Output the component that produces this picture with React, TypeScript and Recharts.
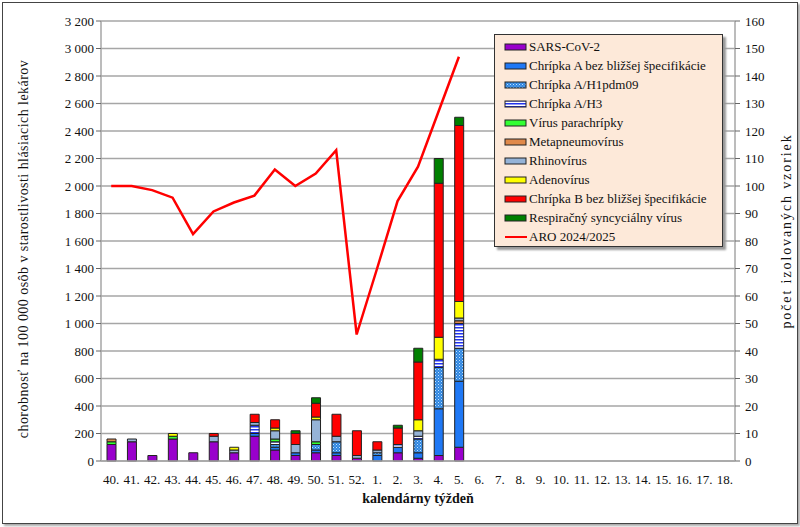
import { ComposedChart, Bar, Line, XAxis, YAxis, CartesianGrid, Legend } from 'recharts'

const weeks = ['40','41','42','43','44','45','46','47','48','49','50','51','52','1','2','3','4','5','6','7','8','9','10','11','12','13','14','15','16','17','18']

// pocet izolovanych vzoriek (prava os), tyzden 40 .. 5
const sars    = [6,7,2,8,3,7,3,9,4,2,3,2,1,0,3,1,2,5]
const fluA    = [0,0,0,0,0,0,0,1,1,1,1,1,0,2,2,2,17,24]
const h1pdm   = [0,0,0,0,0,0,0,0,1,0,2,4,0,1,0,5,15,12]
const h3      = [0,0,0,0,0,0,0,3,1,0,0,0,0,0,1,1,3,9]
const para    = [1,0,0,1,0,0,0,0,1,0,1,0,0,0,0,0,0,0]
const meta    = [1,0,0,0,0,0,0,0,0,0,0,0,0,0,0,0,0,1]
const rhino   = [0,1,0,0,0,2,1,1,3,3,8,2,1,1,0,2,0,1]
const adeno   = [0,0,0,1,0,0,1,0,1,0,1,0,0,0,0,4,8,6]
const fluB    = [0,0,0,0,0,1,0,3,3,4,5,8,9,3,6,21,56,64]
const rsv     = [0,0,0,0,0,0,0,0,0,1,2,0,0,0,1,5,9,3]
// chorobnost ARO (lava os)
const aro     = [2000,2000,1970,1915,1650,1815,1880,1930,2120,2000,2090,2260,920,1400,1890,2140,2540,2940]

const leftTicks = [0,200,400,600,800,1000,1200,1400,1600,1800,2000,2200,2400,2600,2800,3000,3200]
const rightTicks = [0,10,20,30,40,50,60,70,80,90,100,110,120,130,140,150,160]

const series = [
  { key: 'sars', name: 'SARS-CoV-2', fill: '#9900cc', vals: sars },
  { key: 'fluA', name: 'Chrípka A bez bližšej špecifikácie', fill: '#1f78f5', vals: fluA },
  { key: 'h1pdm', name: 'Chrípka A/H1pdm09', fill: 'url(#patH1)', vals: h1pdm },
  { key: 'h3', name: 'Chrípka A/H3', fill: 'url(#patH3)', vals: h3 },
  { key: 'para', name: 'Vírus parachrípky', fill: '#33ff33', vals: para },
  { key: 'meta', name: 'Metapneumovírus', fill: '#e0894a', vals: meta },
  { key: 'rhino', name: 'Rhinovírus', fill: '#95b3d7', vals: rhino },
  { key: 'adeno', name: 'Adenovírus', fill: '#ffff00', vals: adeno },
  { key: 'fluB', name: 'Chrípka B bez bližšej špecifikácie', fill: '#ff0000', vals: fluB },
  { key: 'rsv', name: 'Respiračný syncyciálny vírus', fill: '#008000', vals: rsv },
]

const data = weeks.map((w, i) => {
  const row: any = { week: w + '.', aro: i < aro.length ? aro[i] : null }
  series.forEach(s => { row[s.key] = i < s.vals.length ? s.vals[i] : 0 })
  return row
})

const font = '"Liberation Serif", "Times New Roman", serif'
const fmt = (v: number) => String(v).replace(/\B(?=(\d{3})+(?!\d))/g, ' ')

function LegendBox() {
  return (
    <div style={{ width: 229, height: 213, background: '#fde9d9', border: '1px solid #333',
      boxShadow: '3px 3px 2px #999', fontFamily: font, fontSize: 13, color: '#111', paddingTop: 2, boxSizing: 'border-box' }}>
      {series.map(s => (
        <div key={s.key} style={{ display: 'flex', alignItems: 'center', height: 19 }}>
          <svg width={24} height={8} style={{ marginLeft: 9, marginRight: 1 }}>
            <rect x={1} y={1} width={21} height={6} fill={s.fill} stroke="#222" strokeWidth={1} />
          </svg>
          <span>{s.name}</span>
        </div>
      ))}
      <div style={{ display: 'flex', alignItems: 'center', height: 19 }}>
        <svg width={24} height={8} style={{ marginLeft: 9, marginRight: 1 }}>
          <line x1={1} y1={4} x2={23} y2={4} stroke="#ff0000" strokeWidth={2} />
        </svg>
        <span>ARO 2024/2025</span>
      </div>
    </div>
  )
}

export default function App() {
  return (
    <div style={{ position: 'absolute', left: 0, top: 0, width: 800, height: 527, background: '#fff' }}>
      <svg width={0} height={0} style={{ position: 'absolute' }}>
        <defs>
          <pattern id="patH1" width={3} height={3} patternUnits="userSpaceOnUse">
            <rect width={3} height={3} fill="#2f86e0" />
            <rect x={0} y={0} width={1} height={1} fill="#bfe0ff" />
            <rect x={1.5} y={1.5} width={1} height={1} fill="#8cc4f5" />
          </pattern>
          <pattern id="patH3" width={4} height={3} patternUnits="userSpaceOnUse">
            <rect width={4} height={3} fill="#ffffff" />
            <rect x={0} y={0} width={4} height={1.5} fill="#2233ee" />
          </pattern>
        </defs>
      </svg>
      <div style={{ position: 'absolute', left: 2, top: 2, width: 794, height: 520, border: '1px solid #444', boxShadow: '2px 2px 2px #aaa' }} />
      <div style={{ position: 'absolute', left: 0, top: 0 }}>
        <ComposedChart width={800} height={527} data={data}
          margin={{ top: 21, right: 25, bottom: 36, left: 40 }}>
          <CartesianGrid vertical={false} stroke="#a6a6a6" strokeWidth={1.5} yAxisId="left" />
          <XAxis dataKey="week" height={30} interval={0} tickLine={false}
            axisLine={{ stroke: '#a6a6a6', strokeWidth: 1.5 }}
            tick={{ fontFamily: font, fontSize: 13, fill: '#111' }} dy={6} />
          <YAxis yAxisId="left" orientation="left" width={61} domain={[0, 3200]} ticks={leftTicks}
            interval={0} tickFormatter={fmt} axisLine={{ stroke: '#a6a6a6', strokeWidth: 1.5 }}
            tickLine={{ stroke: '#666' }} tickSize={5}
            tick={{ fontFamily: font, fontSize: 13, fill: '#111' }} />
          <YAxis yAxisId="right" orientation="right" width={40} domain={[0, 160]} ticks={rightTicks}
            interval={0} axisLine={{ stroke: '#a6a6a6', strokeWidth: 1.5 }}
            tickLine={{ stroke: '#666' }} tickSize={5}
            tick={{ fontFamily: font, fontSize: 13, fill: '#111', textAnchor: 'start', dx: 3 }} />
          {series.map(s => (
            <Bar key={s.key} yAxisId="right" dataKey={s.key} name={s.name} stackId="v" fill={s.fill}
              stroke="#222" strokeWidth={1} barSize={9} isAnimationActive={false} />
          ))}
          <Line yAxisId="left" type="linear" dataKey="aro" name="ARO 2024/2025" stroke="#ff0000"
            strokeWidth={2.5} dot={false} connectNulls={false} isAnimationActive={false} />
          <Legend layout="vertical" align="center" verticalAlign="middle" content={() => <LegendBox />}
            wrapperStyle={{ left: 494, top: 34, width: 229 }} />
        </ComposedChart>
      </div>
      <div style={{ position: 'absolute', left: 24, top: 249, transform: 'translate(-50%, -50%) rotate(-90deg)',
        whiteSpace: 'nowrap', fontFamily: font, fontSize: 14, letterSpacing: 0.45, color: '#111' }}>
        chorobnosť na 100 000 osôb v starostlivosti hlásiacich lekárov
      </div>
      <div style={{ position: 'absolute', left: 787, top: 231, transform: 'translate(-50%, -50%) rotate(-90deg)',
        whiteSpace: 'nowrap', fontFamily: font, fontSize: 14, letterSpacing: 1.9, color: '#111' }}>
        počet izolovaných vzoriek
      </div>
      <div style={{ position: 'absolute', left: 418, top: 499, transform: 'translate(-50%, -50%)',
        whiteSpace: 'nowrap', fontFamily: font, fontSize: 14, fontWeight: 'bold', color: '#111' }}>
        kalendárny týždeň
      </div>
    </div>
  )
}
